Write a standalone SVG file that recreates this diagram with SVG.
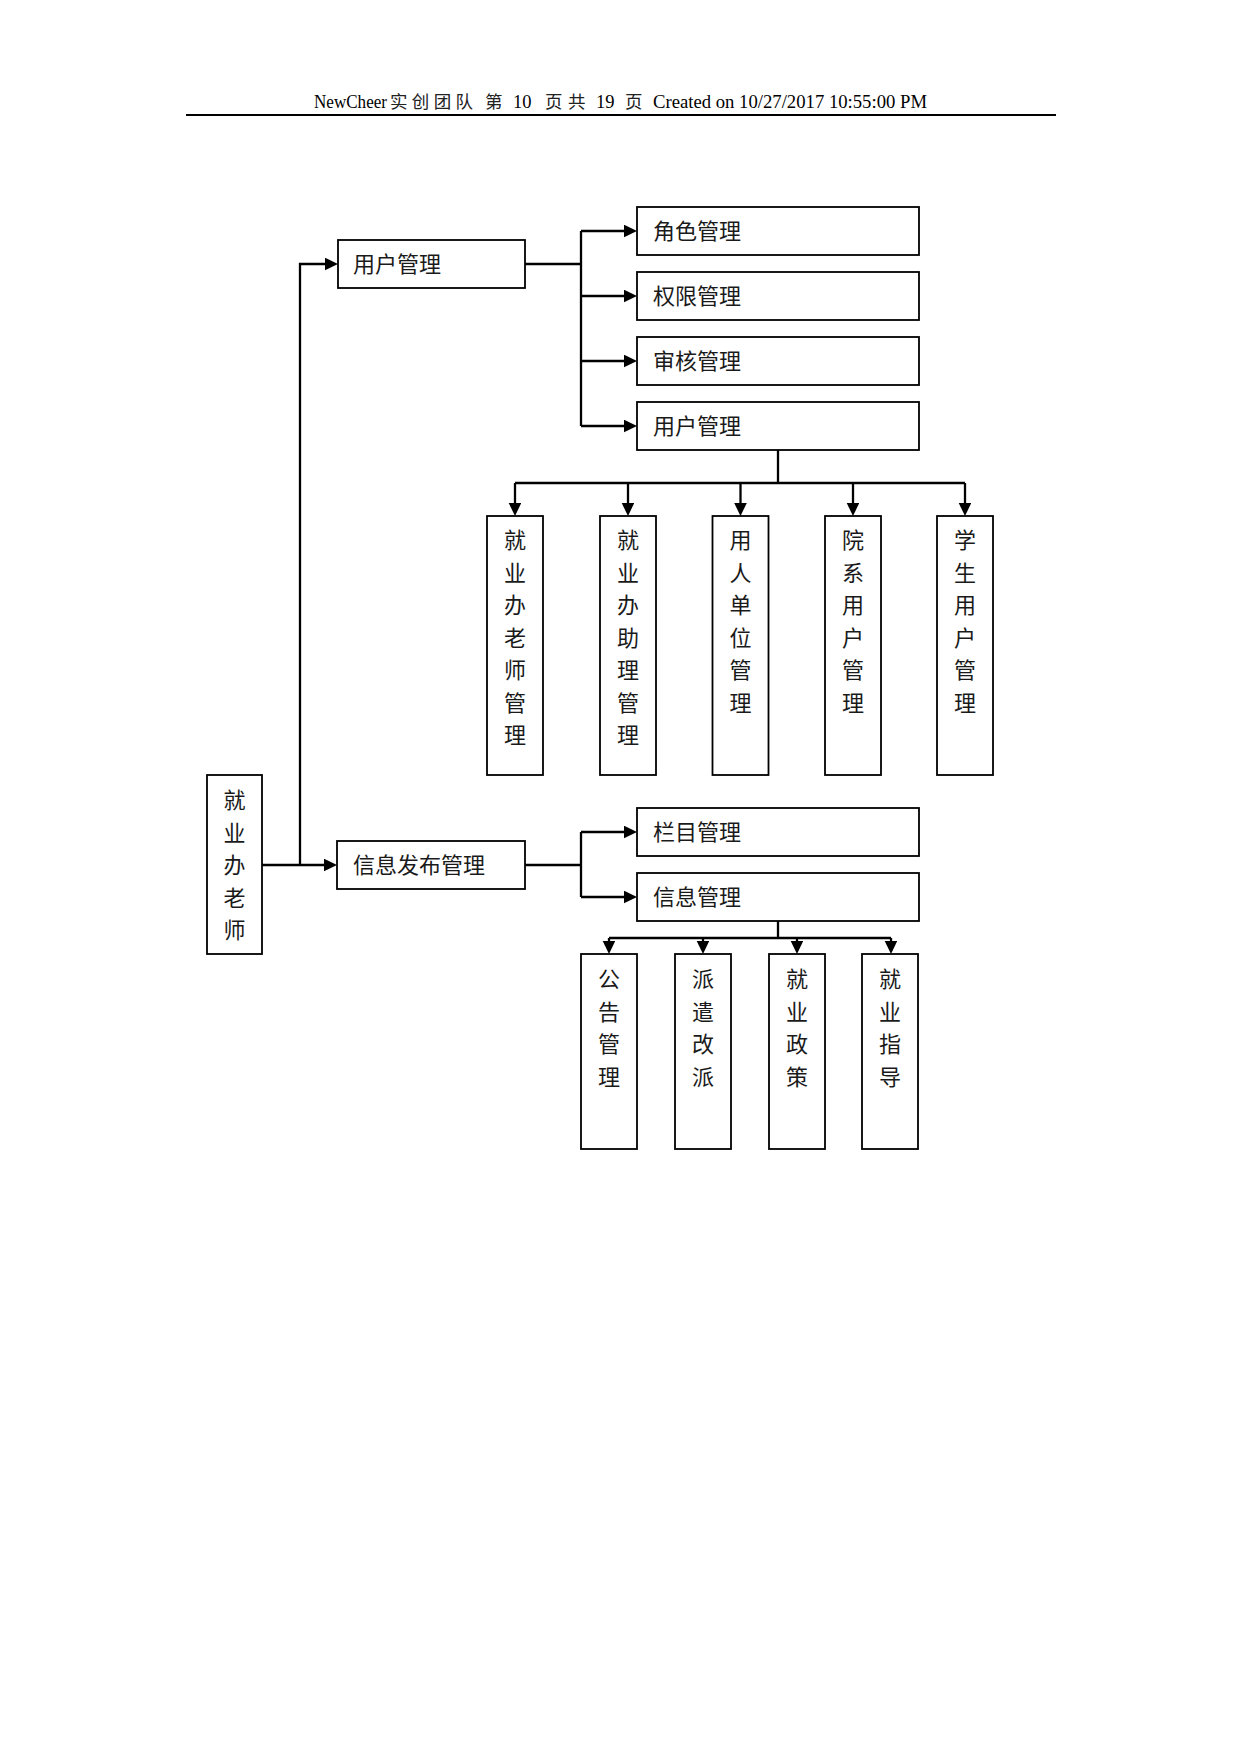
<svg xmlns="http://www.w3.org/2000/svg" width="1241" height="1754" viewBox="0 0 1241 1754">
<defs>
<style>
.box{fill:#fff;stroke:#000;stroke-width:1.8}
.t{font-family:"Noto Sans CJK SC","Liberation Serif",serif;font-size:22px;fill:#1a1a1a}
.tc{font-family:"Noto Sans CJK SC","Liberation Serif",serif;font-size:22px;fill:#1a1a1a;text-anchor:middle}
.hd{font-family:"Liberation Serif","Noto Sans CJK SC",serif;font-size:18.5px;fill:#000}
.hc{font-family:"Noto Sans CJK SC","Liberation Serif",serif;font-size:17.5px;fill:#222}
.ln{fill:none;stroke:#000;stroke-width:2.3}
.ar{fill:none;stroke:#000;stroke-width:2.3;marker-end:url(#ah)}
</style>
<marker id="ah" markerUnits="userSpaceOnUse" markerWidth="14" markerHeight="14" refX="7" refY="6.3" orient="auto">
<path d="M0,0 L13,6.3 L0,12.6 Z" fill="#000"/>
</marker>
</defs>
<rect width="1241" height="1754" fill="#fff"/>

<g id="header">
<text class="hd" x="314" y="108" textLength="73" lengthAdjust="spacingAndGlyphs">NewCheer</text>
<text class="hc" x="390" y="108" textLength="83" lengthAdjust="spacing">实创团队</text>
<text class="hc" x="485" y="108">第</text>
<text class="hd" x="513" y="108">10</text>
<text class="hc" x="545" y="108">页</text>
<text class="hc" x="568" y="108">共</text>
<text class="hd" x="596" y="108">19</text>
<text class="hc" x="625" y="108">页</text>
<text class="hd" x="653" y="108" textLength="274" lengthAdjust="spacingAndGlyphs">Created on 10/27/2017 10:55:00 PM</text>
<line x1="186" y1="115" x2="1056" y2="115" stroke="#000" stroke-width="2.2"/>
</g>

<g id="connectors">
<path class="ar" d="M262,865 H331"/>
<path class="ar" d="M300,865 V264 H332"/>
<path class="ln" d="M525,264 H581 M581,231 V426"/>
<path class="ar" d="M581,231 H631"/>
<path class="ar" d="M581,296 H631"/>
<path class="ar" d="M581,361 H631"/>
<path class="ar" d="M581,426 H631"/>
<path class="ln" d="M778,450 V483 M515,483 H965"/>
<path class="ar" d="M515,483 V510"/>
<path class="ar" d="M628,483 V510"/>
<path class="ar" d="M740.5,483 V510"/>
<path class="ar" d="M853,483 V510"/>
<path class="ar" d="M965,483 V510"/>
<path class="ln" d="M525,865 H581 M581,832 V897"/>
<path class="ar" d="M581,832 H631"/>
<path class="ar" d="M581,897 H631"/>
<path class="ln" d="M778,921 V938 M609,938 H891"/>
<path class="ar" d="M609,938 V948"/>
<path class="ar" d="M703,938 V948"/>
<path class="ar" d="M797,938 V948"/>
<path class="ar" d="M891,938 V948"/>
</g>

<g id="root">
<rect class="box" x="207" y="775" width="55" height="179"/>
<text class="tc" x="234.5" y="808.4">就</text>
<text class="tc" x="234.5" y="840.9">业</text>
<text class="tc" x="234.5" y="873.4">办</text>
<text class="tc" x="234.5" y="905.9">老</text>
<text class="tc" x="234.5" y="938.4">师</text>
</g>

<g id="user-mgmt">
<rect class="box" x="338" y="240" width="187" height="48"/>
<text class="t" x="353" y="272.4">用户管理</text>
</g>
<g id="info-publish">
<rect class="box" x="337" y="841" width="188" height="48"/>
<text class="t" x="353" y="873.4">信息发布管理</text>
</g>

<g id="role-mgmt">
<rect class="box" x="637" y="207" width="282" height="48"/>
<text class="t" x="653" y="239.4">角色管理</text>
</g>
<g id="perm-mgmt">
<rect class="box" x="637" y="272" width="282" height="48"/>
<text class="t" x="653" y="304.4">权限管理</text>
</g>
<g id="audit-mgmt">
<rect class="box" x="637" y="337" width="282" height="48"/>
<text class="t" x="653" y="369.4">审核管理</text>
</g>
<g id="user-mgmt-2">
<rect class="box" x="637" y="402" width="282" height="48"/>
<text class="t" x="653" y="434.4">用户管理</text>
</g>

<g id="u1">
<rect class="box" x="487" y="516" width="56" height="259"/>
<text class="tc" x="515" y="548.4">就</text>
<text class="tc" x="515" y="580.9">业</text>
<text class="tc" x="515" y="613.4">办</text>
<text class="tc" x="515" y="645.9">老</text>
<text class="tc" x="515" y="678.4">师</text>
<text class="tc" x="515" y="710.9">管</text>
<text class="tc" x="515" y="743.4">理</text>
</g>
<g id="u2">
<rect class="box" x="600" y="516" width="56" height="259"/>
<text class="tc" x="628" y="548.4">就</text>
<text class="tc" x="628" y="580.9">业</text>
<text class="tc" x="628" y="613.4">办</text>
<text class="tc" x="628" y="645.9">助</text>
<text class="tc" x="628" y="678.4">理</text>
<text class="tc" x="628" y="710.9">管</text>
<text class="tc" x="628" y="743.4">理</text>
</g>
<g id="u3">
<rect class="box" x="712.5" y="516" width="56" height="259"/>
<text class="tc" x="740.5" y="548.4">用</text>
<text class="tc" x="740.5" y="580.9">人</text>
<text class="tc" x="740.5" y="613.4">单</text>
<text class="tc" x="740.5" y="645.9">位</text>
<text class="tc" x="740.5" y="678.4">管</text>
<text class="tc" x="740.5" y="710.9">理</text>
</g>
<g id="u4">
<rect class="box" x="825" y="516" width="56" height="259"/>
<text class="tc" x="853" y="548.4">院</text>
<text class="tc" x="853" y="580.9">系</text>
<text class="tc" x="853" y="613.4">用</text>
<text class="tc" x="853" y="645.9">户</text>
<text class="tc" x="853" y="678.4">管</text>
<text class="tc" x="853" y="710.9">理</text>
</g>
<g id="u5">
<rect class="box" x="937" y="516" width="56" height="259"/>
<text class="tc" x="965" y="548.4">学</text>
<text class="tc" x="965" y="580.9">生</text>
<text class="tc" x="965" y="613.4">用</text>
<text class="tc" x="965" y="645.9">户</text>
<text class="tc" x="965" y="678.4">管</text>
<text class="tc" x="965" y="710.9">理</text>
</g>

<g id="column-mgmt">
<rect class="box" x="637" y="808" width="282" height="48"/>
<text class="t" x="653" y="840.4">栏目管理</text>
</g>
<g id="info-mgmt">
<rect class="box" x="637" y="873" width="282" height="48"/>
<text class="t" x="653" y="905.4">信息管理</text>
</g>

<g id="i1">
<rect class="box" x="581" y="954" width="56" height="195"/>
<text class="tc" x="609" y="987.4">公</text>
<text class="tc" x="609" y="1019.9">告</text>
<text class="tc" x="609" y="1052.4">管</text>
<text class="tc" x="609" y="1084.9">理</text>
</g>
<g id="i2">
<rect class="box" x="675" y="954" width="56" height="195"/>
<text class="tc" x="703" y="987.4">派</text>
<text class="tc" x="703" y="1019.9">遣</text>
<text class="tc" x="703" y="1052.4">改</text>
<text class="tc" x="703" y="1084.9">派</text>
</g>
<g id="i3">
<rect class="box" x="769" y="954" width="56" height="195"/>
<text class="tc" x="797" y="987.4">就</text>
<text class="tc" x="797" y="1019.9">业</text>
<text class="tc" x="797" y="1052.4">政</text>
<text class="tc" x="797" y="1084.9">策</text>
</g>
<g id="i4">
<rect class="box" x="862" y="954" width="56" height="195"/>
<text class="tc" x="890" y="987.4">就</text>
<text class="tc" x="890" y="1019.9">业</text>
<text class="tc" x="890" y="1052.4">指</text>
<text class="tc" x="890" y="1084.9">导</text>
</g>
</svg>
